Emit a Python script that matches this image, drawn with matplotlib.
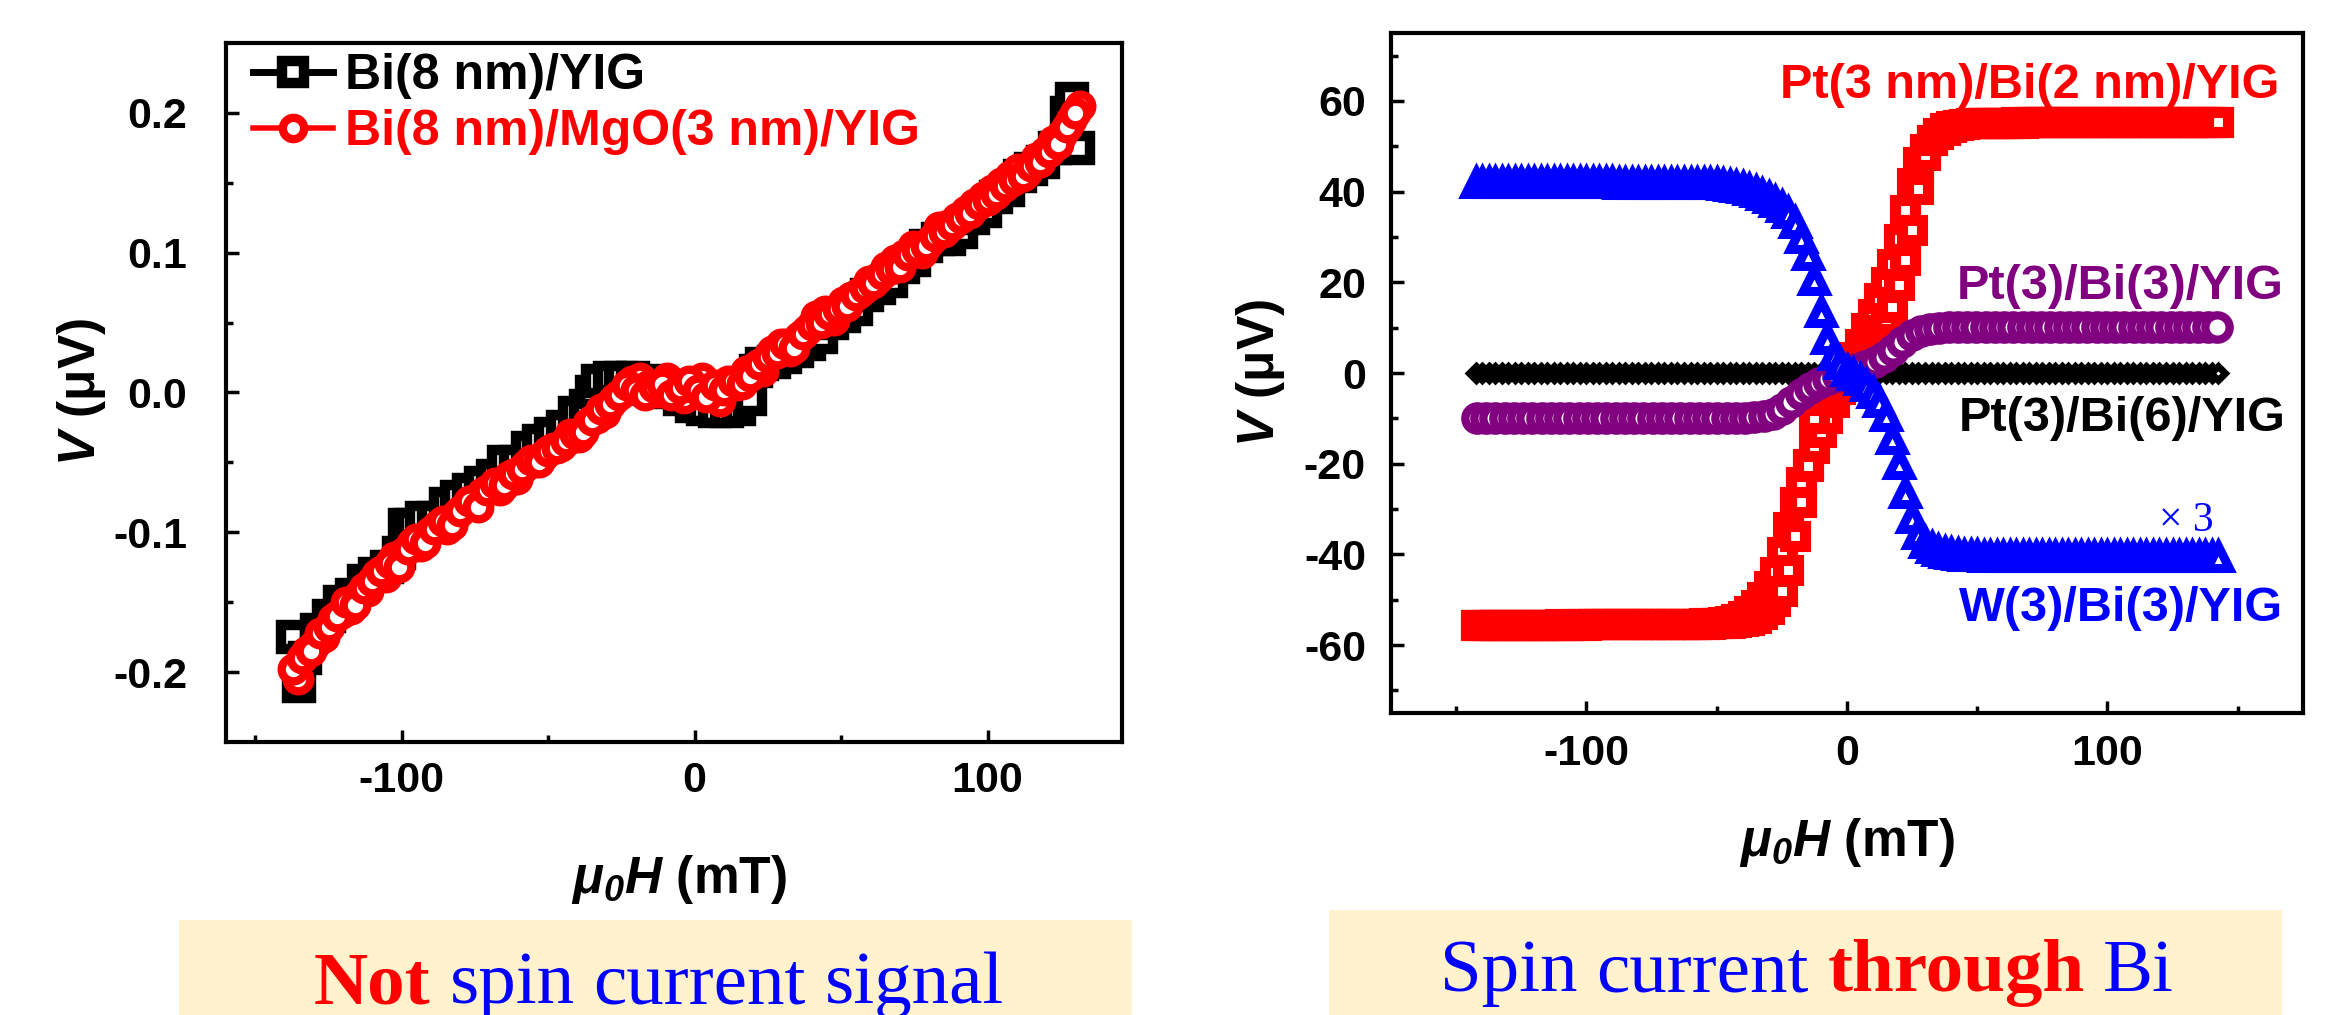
import numpy as np
import matplotlib
matplotlib.use('Agg')
import matplotlib.pyplot as plt
from matplotlib.patches import Rectangle

plt.rcParams['font.family'] = ['Liberation Sans', 'DejaVu Sans']
plt.rcParams['font.weight'] = 'bold'
plt.rcParams['axes.unicode_minus'] = False
plt.rcParams['mathtext.fontset'] = 'custom'
plt.rcParams['mathtext.it'] = 'Liberation Sans:italic:bold'
plt.rcParams['mathtext.rm'] = 'Liberation Sans:italic:bold'
plt.rcParams['mathtext.bf'] = 'Liberation Sans:bold'

# ---- left panel: Bi(8 nm)/YIG and Bi(8 nm)/MgO/YIG ----
h_bi = [-137, -135, -133, -129, -125, -121, -117, -113, -109, -105,
        -101, -99, -97, -93, -89, -85, -81, -77, -73, -69,
        -65, -61, -57, -53, -49, -45, -41, -37, -35, -33,
        -29, -25, -21, -17, -13, -9, -5, -1, 3, 7,
        11, 15, 19, 21, 23, 27, 31, 35, 39, 43,
        47, 51, 55, 59, 63, 67, 71, 75, 79, 83,
        87, 91, 95, 99, 103, 107, 111, 115, 119, 123,
        127, 129, 131]
v_bi = [-0.175, -0.21, -0.19, -0.17, -0.16, -0.15, -0.145, -0.135, -0.13, -0.125,
        -0.115, -0.095, -0.095, -0.09, -0.09, -0.08, -0.075, -0.07, -0.065, -0.06,
        -0.05, -0.05, -0.04, -0.035, -0.03, -0.025, -0.015, -0.01, 0.0, 0.008,
        0.01, 0.01, 0.01, 0.008, 0.005, 0.0, -0.005, -0.01, -0.012, -0.013,
        -0.013, -0.012, -0.005, 0.015, 0.02, 0.022, 0.025, 0.03, 0.035, 0.04,
        0.05, 0.055, 0.06, 0.07, 0.075, 0.08, 0.09, 0.095, 0.105, 0.11,
        0.11, 0.115, 0.125, 0.13, 0.14, 0.145, 0.155, 0.16, 0.165, 0.175,
        0.2, 0.21, 0.175]

h_mgo = [-137, -134, -131, -128, -125, -122, -119, -116, -113, -110,
         -107, -104, -101, -98, -95, -92, -89, -86, -83, -80,
         -77, -74, -71, -68, -65, -62, -59, -56, -53, -50,
         -47, -44, -41, -38, -35, -32, -29, -26, -23, -20,
         -17, -14, -11, -8, -5, -2, 1, 4, 7, 10,
         13, 16, 19, 22, 25, 28, 31, 34, 37, 40,
         43, 46, 49, 52, 55, 58, 61, 64, 67, 70,
         73, 76, 79, 82, 85, 88, 91, 94, 97, 100,
         103, 106, 109, 112, 115, 118, 121, 124, 127, 130]
v_mgo = [-0.198, -0.190, -0.185, -0.172, -0.168, -0.160, -0.150, -0.152, -0.140, -0.135,
         -0.128, -0.122, -0.125, -0.112, -0.105, -0.108, -0.098, -0.092, -0.095, -0.085,
         -0.078, -0.082, -0.070, -0.065, -0.066, -0.058, -0.055, -0.048, -0.050, -0.042,
         -0.040, -0.035, -0.030, -0.028, -0.020, -0.012, -0.008, -0.002, 0.005, 0.002,
         -0.002, 0.004, 0.006, -0.002, 0.003, 0.008, 0.002, -0.003, 0.005, 0.002,
         0.008, 0.006, 0.012, 0.020, 0.025, 0.028, 0.035, 0.032, 0.042, 0.048,
         0.050, 0.056, 0.060, 0.062, 0.070, 0.075, 0.078, 0.085, 0.088, 0.090,
         0.098, 0.102, 0.105, 0.112, 0.115, 0.120, 0.125, 0.128, 0.135, 0.138,
         0.142, 0.148, 0.152, 0.155, 0.162, 0.165, 0.172, 0.178, 0.190, 0.200]
# return sweep of the same sample
h_mgo_back = [-135.5, -132.5, -129.5, -126.5, -123.5, -120.5, -117.5, -114.5, -111.5, -108.5,
              -105.5, -102.5, -99.5, -96.5, -93.5, -90.5, -87.5, -84.5, -81.5, -78.5,
              -75.5, -72.5, -69.5, -66.5, -63.5, -60.5, -57.5, -54.5, -51.5, -48.5,
              -45.5, -42.5, -39.5, -36.5, -33.5, -30.5, -27.5, -24.5, -21.5, -18.5,
              -15.5, -12.5, -9.5, -6.5, -3.5, -0.5, 2.5, 5.5, 8.5, 11.5,
              14.5, 17.5, 20.5, 23.5, 26.5, 29.5, 32.5, 35.5, 38.5, 41.5,
              44.5, 47.5, 50.5, 53.5, 56.5, 59.5, 62.5, 65.5, 68.5, 71.5,
              74.5, 77.5, 80.5, 83.5, 86.5, 89.5, 92.5, 95.5, 98.5, 101.5,
              104.5, 107.5, 110.5, 113.5, 116.5, 119.5, 122.5, 125.5, 128.5, 131.5]
v_mgo_back = [-0.205, -0.185, -0.180, -0.175, -0.162, -0.158, -0.155, -0.145, -0.142, -0.130,
              -0.132, -0.118, -0.115, -0.108, -0.110, -0.100, -0.095, -0.098, -0.088, -0.082,
              -0.080, -0.072, -0.068, -0.070, -0.060, -0.062, -0.052, -0.050, -0.045, -0.040,
              -0.038, -0.030, -0.032, -0.022, -0.018, -0.015, -0.005, 0.000, 0.008, 0.010,
              0.005, 0.000, 0.010, 0.004, -0.004, 0.006, 0.010, 0.000, -0.006, 0.008,
              0.005, 0.015, 0.018, 0.015, 0.030, 0.035, 0.030, 0.040, 0.045, 0.055,
              0.058, 0.052, 0.065, 0.068, 0.072, 0.080, 0.082, 0.090, 0.095, 0.098,
              0.105, 0.100, 0.108, 0.118, 0.120, 0.125, 0.130, 0.135, 0.140, 0.145,
              0.150, 0.155, 0.160, 0.158, 0.168, 0.172, 0.180, 0.185, 0.195, 0.205]

# ---- right panel: spin current through Bi ----
h_sweep = [-142.5, -140.0, -137.5, -135.0, -132.5, -130.0, -127.5, -125.0, -122.5, -120.0,
           -117.5, -115.0, -112.5, -110.0, -107.5, -105.0, -102.5, -100.0, -97.5, -95.0,
           -92.5, -90.0, -87.5, -85.0, -82.5, -80.0, -77.5, -75.0, -72.5, -70.0,
           -67.5, -65.0, -62.5, -60.0, -57.5, -55.0, -52.5, -50.0, -47.5, -45.0,
           -42.5, -40.0, -37.5, -35.0, -32.5, -30.0, -27.5, -25.0, -22.5, -20.0,
           -17.5, -15.0, -12.5, -10.0, -7.5, -5.0, -2.5, 0.0, 2.5, 5.0,
           7.5, 10.0, 12.5, 15.0, 17.5, 20.0, 22.5, 25.0, 27.5, 30.0,
           32.5, 35.0, 37.5, 40.0, 42.5, 45.0, 47.5, 50.0, 52.5, 55.0,
           57.5, 60.0, 62.5, 65.0, 67.5, 70.0, 72.5, 75.0, 77.5, 80.0,
           82.5, 85.0, 87.5, 90.0, 92.5, 95.0, 97.5, 100.0, 102.5, 105.0,
           107.5, 110.0, 112.5, 115.0, 117.5, 120.0, 122.5, 125.0, 127.5, 130.0,
           132.5, 135.0, 137.5, 140.0, 142.5]

v_pt_bi2_a = [-55.6, -55.6, -55.6, -55.6, -55.6, -55.5, -55.6, -55.5, -55.5, -55.5,
              -55.5, -55.5, -55.5, -55.4, -55.5, -55.5, -55.4, -55.5, -55.4, -55.4,
              -55.4, -55.4, -55.4, -55.4, -55.4, -55.4, -55.4, -55.4, -55.4, -55.4,
              -55.4, -55.4, -55.4, -55.4, -55.3, -55.3, -55.3, -55.2, -55.2, -55.1,
              -55.0, -54.8, -54.5, -54.0, -53.2, -52.0, -50.3, -48.0, -43.5, -36.0,
              -28.5, -20.5, -10.0, -6.0, -4.0, -2.5, -1.0, 0.5, 2.0, 3.5,
              5.0, 7.0, 9.5, 12.0, 14.5, 19.5, 25.0, 31.5, 40.5, 48.0,
              51.5, 53.0, 54.0, 54.5, 54.8, 55.0, 55.1, 55.1, 55.2, 55.2,
              55.2, 55.2, 55.2, 55.3, 55.2, 55.3, 55.3, 55.3, 55.3, 55.3,
              55.3, 55.3, 55.3, 55.3, 55.3, 55.3, 55.3, 55.3, 55.3, 55.3,
              55.3, 55.3, 55.3, 55.3, 55.3, 55.3, 55.3, 55.3, 55.3, 55.3,
              55.3, 55.3, 55.3, 55.3, 55.3]
v_pt_bi2_b = [-55.6, -55.6, -55.6, -55.6, -55.5, -55.5, -55.5, -55.5, -55.5, -55.5,
              -55.5, -55.5, -55.5, -55.5, -55.5, -55.4, -55.5, -55.4, -55.4, -55.4,
              -55.4, -55.4, -55.4, -55.4, -55.4, -55.4, -55.4, -55.4, -55.4, -55.4,
              -55.4, -55.4, -55.4, -55.3, -55.3, -55.2, -55.2, -55.1, -55.0, -54.8,
              -54.3, -53.6, -52.6, -51.2, -49.4, -47.0, -43.8, -39.5, -34.0, -28.5,
              -24.0, -20.0, -16.5, -13.0, -10.0, -6.5, -3.5, 0.0, 3.5, 6.5,
              10.0, 13.0, 16.5, 20.0, 24.0, 29.5, 36.0, 42.0, 46.5, 49.5,
              51.5, 52.8, 53.7, 54.3, 54.7, 55.0, 55.1, 55.1, 55.2, 55.2,
              55.2, 55.2, 55.2, 55.2, 55.3, 55.3, 55.3, 55.3, 55.3, 55.3,
              55.3, 55.3, 55.3, 55.3, 55.3, 55.3, 55.3, 55.3, 55.3, 55.3,
              55.3, 55.3, 55.3, 55.3, 55.3, 55.3, 55.3, 55.3, 55.3, 55.3,
              55.3, 55.3, 55.3, 55.3, 55.3]
v_w_bi3 = [42.0, 42.0, 41.9, 41.9, 41.9, 41.9, 41.9, 41.9, 41.9, 41.9,
           41.9, 41.9, 41.9, 41.9, 41.9, 41.9, 41.9, 41.9, 41.9, 41.9,
           41.9, 41.9, 41.8, 41.8, 41.8, 41.8, 41.8, 41.8, 41.8, 41.8,
           41.8, 41.8, 41.8, 41.8, 41.7, 41.7, 41.6, 41.6, 41.5, 41.3,
           41.1, 40.8, 40.4, 39.9, 39.3, 38.6, 37.8, 36.7, 35.2, 33.0,
           29.8, 26.0, 20.5, 13.5, 7.5, 4.0, 2.0, 0.5, -0.5, -1.5,
           -2.8, -4.3, -6.5, -9.5, -14.5, -20.0, -26.5, -32.0, -35.5, -37.5,
           -38.6, -39.3, -39.7, -40.0, -40.2, -40.3, -40.4, -40.4, -40.5, -40.5,
           -40.5, -40.5, -40.5, -40.5, -40.5, -40.5, -40.5, -40.6, -40.5, -40.6,
           -40.6, -40.6, -40.6, -40.6, -40.6, -40.6, -40.6, -40.6, -40.6, -40.6,
           -40.6, -40.6, -40.6, -40.6, -40.6, -40.6, -40.6, -40.6, -40.6, -40.6,
           -40.6, -40.6, -40.6, -40.6, -40.6]
v_pt_bi6 = [-0.1, 0.0, -0.1, 0.0, 0.1, 0.0, -0.1, 0.0, 0.0, 0.1,
            0.0, -0.1, 0.0, 0.0, 0.1, 0.0, 0.0, -0.1, 0.0, 0.0,
            0.1, 0.0, 0.0, -0.1, 0.0, 0.0, 0.1, 0.0, -0.1, 0.0,
            0.0, 0.1, 0.0, 0.0, -0.1, 0.0, 0.0, 0.1, 0.0, 0.0,
            -0.1, 0.0, 0.0, 0.1, 0.0, 0.0, -0.1, 0.0, 0.0, 0.1,
            0.0, 0.0, -0.1, 0.0, 0.0, 0.1, 0.0, 0.0, -0.1, 0.0,
            0.0, 0.1, 0.0, 0.0, -0.1, 0.0, 0.0, 0.1, 0.0, 0.0,
            -0.1, 0.0, 0.0, 0.1, 0.0, 0.0, -0.1, 0.0, 0.0, 0.1,
            0.0, 0.0, -0.1, 0.0, 0.0, 0.1, 0.0, 0.0, -0.1, 0.0,
            0.0, 0.1, 0.0, 0.0, -0.1, 0.0, 0.0, 0.1, 0.0, 0.0,
            -0.1, 0.0, 0.0, 0.1, 0.0, 0.0, -0.1, 0.0, 0.0, 0.1,
            0.0, 0.0, -0.1, 0.0, 0.1]

h_pt_bi3 = [-142.00, -138.45, -134.90, -131.35, -127.80, -124.25, -120.70, -117.15, -113.60, -110.05,
            -106.50, -102.95, -99.40, -95.85, -92.30, -88.75, -85.20, -81.65, -78.10, -74.55,
            -71.00, -67.45, -63.90, -60.35, -56.80, -53.25, -49.70, -46.15, -42.60, -39.05,
            -35.50, -31.95, -28.40, -24.85, -21.30, -17.75, -14.20, -10.65, -7.10, -3.55,
            0.00, 3.55, 7.10, 10.65, 14.20, 17.75, 21.30, 24.85, 28.40, 31.95,
            35.50, 39.05, 42.60, 46.15, 49.70, 53.25, 56.80, 60.35, 63.90, 67.45,
            71.00, 74.55, 78.10, 81.65, 85.20, 88.75, 92.30, 95.85, 99.40, 102.95,
            106.50, 110.05, 113.60, 117.15, 120.70, 124.25, 127.80, 131.35, 134.90, 138.45,
            142.00]
v_pt_bi3 = [-10.0, -10.0, -10.0, -10.0, -10.0, -10.0, -10.0, -10.0, -10.0, -10.0,
            -10.0, -10.0, -10.0, -10.0, -10.0, -10.0, -10.0, -10.0, -10.0, -10.0,
            -10.0, -10.0, -10.0, -10.0, -10.0, -10.0, -10.0, -10.0, -9.9, -9.9,
            -9.8, -9.5, -9.0, -8.0, -6.4, -4.6, -3.2, -2.2, -1.4, -0.7,
            0.0, 0.8, 1.6, 2.5, 3.5, 5.0, 6.8, 8.3, 9.3, 9.8,
            10.0, 10.1, 10.1, 10.2, 10.2, 10.2, 10.2, 10.2, 10.2, 10.2,
            10.2, 10.2, 10.2, 10.2, 10.2, 10.2, 10.2, 10.2, 10.2, 10.2,
            10.2, 10.2, 10.2, 10.2, 10.2, 10.2, 10.2, 10.2, 10.2, 10.2,
            10.2]

fig = plt.figure(figsize=(23.4, 10.15), dpi=100)
axL = fig.add_axes([0.0966, 0.269, 0.383, 0.6887])
axR = fig.add_axes([0.5944, 0.2975, 0.3897, 0.670])

for ax in (axL, axR):
    for sp in ax.spines.values():
        sp.set_linewidth(3)
    ax.tick_params(which='major', direction='in', length=9, width=2.5, labelsize=31)
    ax.tick_params(which='minor', direction='in', length=5, width=2.5)
    ax.tick_params(top=False, right=False)

# left panel
axL.plot(h_bi, v_bi, '-s', color='black', lw=5, ms=17, mew=7.5, mfc='white',
         label='Bi(8 nm)/YIG')
axL.plot(h_mgo_back, v_mgo_back, '-o', color='red', lw=4, ms=17, mew=6, mfc='white')
axL.plot(h_mgo, v_mgo, '-o', color='red', lw=4, ms=17, mew=6, mfc='white',
         label='Bi(8 nm)/MgO(3 nm)/YIG')
axL.set_xlim(-160, 146)
axL.set_ylim(-0.25, 0.25)
axL.set_xticks([-100, 0, 100])
axL.set_xticks([-150, -50, 50], minor=True)
axL.set_yticks([-0.2, -0.1, 0.0, 0.1, 0.2])
axL.set_yticks([-0.15, -0.05, 0.05, 0.15], minor=True)
axL.yaxis.set_major_formatter(matplotlib.ticker.FormatStrFormatter('%.1f'))
axL.tick_params(axis='y', pad=28)
axL.tick_params(axis='x', pad=14)
leg = axL.legend(loc='upper left', bbox_to_anchor=(0.03, 0.985), frameon=False,
                 fontsize=36, handlelength=1.6, handletextpad=0.25, labelspacing=0.2,
                 borderpad=0, borderaxespad=0, markerscale=0.9)
for t, c in zip(leg.get_texts(), ['black', 'red']):
    t.set_color(c)
axL.set_xlabel(r'$\mu_0H$ (mT)', fontsize=37, fontweight='bold', va='center')
axL.xaxis.set_label_coords(0.5056, -0.197)
axL.set_ylabel(r'$V$ (μV)', fontsize=37, fontweight='bold', va='center')
axL.yaxis.set_label_coords(-0.161, 0.5)

# right panel
axR.plot(h_sweep, v_pt_bi6, ls='none', marker='D', color='black', ms=7, mew=5, mfc='white')
axR.plot(h_sweep, v_pt_bi2_b, ls='none', marker='s', color='red', ms=15, mew=8, mfc='white')
axR.plot(h_sweep, v_pt_bi2_a, ls='none', marker='s', color='red', ms=15, mew=8, mfc='white')
axR.plot(h_pt_bi3, v_pt_bi3, ls='none', marker='o', color='#800080', ms=17.5, mew=6, mfc='white')
axR.plot(h_sweep, v_w_bi3, ls='none', marker='^', color='blue', ms=16.5, mew=6.5, mfc='white')
axR.set_xlim(-175, 175)
axR.set_ylim(-75, 75)
axR.set_xticks([-100, 0, 100])
axR.set_xticks([-150, -50, 50, 150], minor=True)
axR.set_yticks([-60, -40, -20, 0, 20, 40, 60])
axR.set_yticks([-70, -50, -30, -10, 10, 30, 50, 70], minor=True)
axR.tick_params(axis='y', pad=18)
axR.tick_params(axis='x', pad=15)
axR.set_xlabel(r'$\mu_0H$ (mT)', fontsize=37, fontweight='bold', va='center')
axR.xaxis.set_label_coords(0.5, -0.191)
axR.set_ylabel(r'$V$ (μV)', fontsize=37, fontweight='bold', va='center')
axR.yaxis.set_label_coords(-0.1425, 0.5)

axR.text(166, 60.7, 'Pt(3 nm)/Bi(2 nm)/YIG', color='red', fontsize=35, ha='right', va='baseline')
axR.text(167.5, 16.3, 'Pt(3)/Bi(3)/YIG', color='#800080', fontsize=35, ha='right', va='baseline')
axR.text(168.6, -12.7, 'Pt(3)/Bi(6)/YIG', color='black', fontsize=35, ha='right', va='baseline')
axR.text(167.5, -54.7, 'W(3)/Bi(3)/YIG', color='blue', fontsize=35, ha='right', va='baseline')
axR.text(120, -34.9, '× 3', color='blue', fontsize=30, ha='left', va='baseline',
         family='Liberation Serif', fontweight='normal')

# bottom captions
box_color = '#fff2cc'
fig.patches.append(Rectangle((0.0765, 0.0), 0.4073, 0.0936, transform=fig.transFigure,
                             facecolor=box_color, edgecolor='none', zorder=0))
fig.patches.append(Rectangle((0.568, 0.0), 0.4073, 0.1034, transform=fig.transFigure,
                             facecolor=box_color, edgecolor='none', zorder=0))

renderer = fig.canvas.get_renderer()
cap_size = 54
space = 0.25 * cap_size / 72 * fig.dpi / fig.bbox.width


def caption(x, y, parts):
    for s, c, w in parts:
        t = fig.text(x, y, s, color=c, fontweight=w, fontsize=cap_size,
                     family='Liberation Serif', va='baseline')
        bb = t.get_window_extent(renderer)
        x = x + bb.width / fig.bbox.width + space


caption(0.1342, 0.0118, [('Not', 'red', 'bold'), ('spin', 'blue', 'normal'),
                         ('current', 'blue', 'normal'), ('signal', 'blue', 'normal')])
caption(0.6154, 0.0236, [('Spin', 'blue', 'normal'), ('current', 'blue', 'normal'),
                         ('through', 'red', 'bold'), ('Bi', 'blue', 'normal')])

fig.savefig('out.png', dpi=100)
